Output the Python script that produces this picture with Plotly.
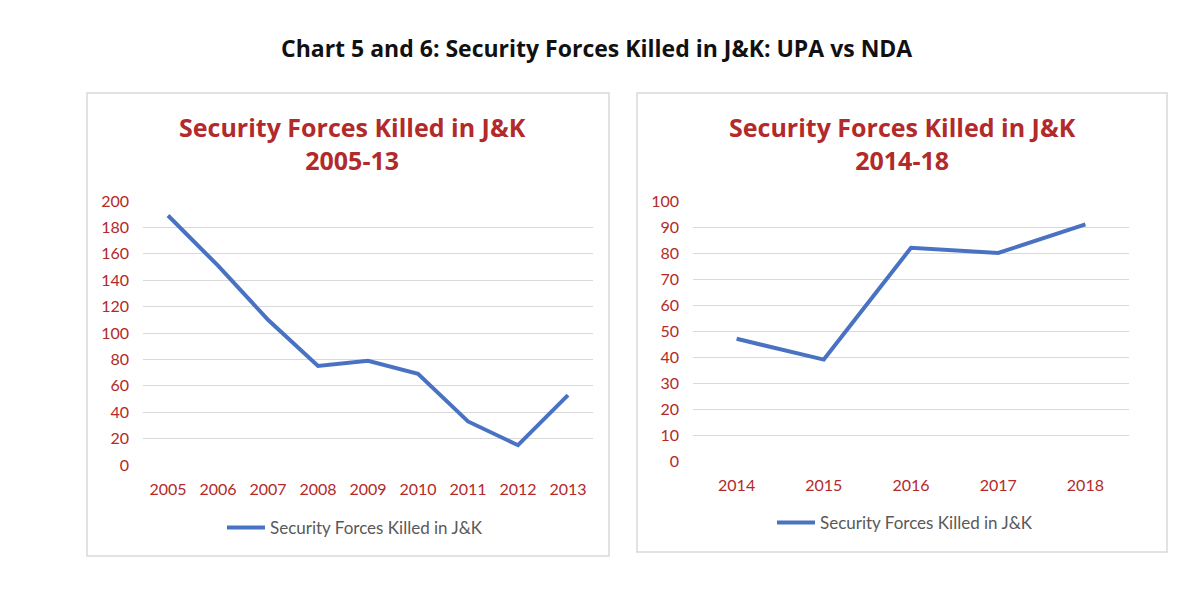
import plotly.graph_objects as go

W, H = 1200, 593
OX, OY = 8, 8  # page body margin offset

years_upa = ["2005", "2006", "2007", "2008", "2009", "2010", "2011", "2012", "2013"]
killed_upa = [189, 151, 110, 75, 79, 69, 33, 15, 53]

years_nda = ["2014", "2015", "2016", "2017", "2018"]
killed_nda = [47, 39, 82, 80, 91]

series_name = "Security Forces Killed in J&K"
main_title = "Chart 5 and 6: Security Forces Killed in J&K: UPA vs NDA"
left_title = "Security Forces Killed in J&K<br>2005-13"
right_title = "Security Forces Killed in J&K<br>2014-18"

RED = "#B22A2A"
BLUE = "#4A72C2"
GRID = "#D9D9D9"
FONT = "Lato"
TFONT = "Open Sans"

def px(x):
    return (x - OX) / W

def py(y):
    return 1 - (y - OY) / H

fig = go.Figure()
fig.add_trace(go.Scatter(x=years_upa, y=killed_upa, mode="lines", name=series_name, showlegend=True,
                         line=dict(color=BLUE, width=4), xaxis="x", yaxis="y", legend="legend"))
fig.add_trace(go.Scatter(x=years_nda, y=killed_nda, mode="lines", name=series_name, showlegend=True,
                         line=dict(color=BLUE, width=4), xaxis="x2", yaxis="y2", legend="legend2"))

axis_common = dict(showline=False, zeroline=False, gridcolor=GRID, gridwidth=1, automargin=False,
                   tickfont=dict(family=FONT, size=16, color=RED), fixedrange=True)

def title_ann(text, x, y, size, color, family):
    return dict(text="<b>" + text + "</b>", x=px(x), y=py(y), xref="paper", yref="paper",
                xanchor="center", yanchor="middle", showarrow=False,
                font=dict(family=family, size=size, color=color))

fig.update_layout(
    width=W, height=H, autosize=False, showlegend=True,
    margin=dict(l=0, r=0, t=0, b=0, pad=0),
    paper_bgcolor="white", plot_bgcolor="white",
    font=dict(family=FONT),
    xaxis=dict(domain=[px(143), px(593)], anchor="y", type="category", range=[-0.5, 8.5],
               showgrid=False, ticklabelstandoff=13, **axis_common),
    yaxis=dict(domain=[py(465), py(201)], anchor="x", range=[0, 200], dtick=20,
               ticklabelstandoff=13, **axis_common),
    xaxis2=dict(domain=[px(693), px(1129)], anchor="y2", type="category", range=[-0.5, 4.5],
                showgrid=False, ticklabelstandoff=13, **axis_common),
    yaxis2=dict(domain=[py(461), py(201)], anchor="x2", range=[0, 100], dtick=10,
                ticklabelstandoff=13, **axis_common),
    legend=dict(x=px(222), y=py(528), xanchor="left", yanchor="middle", xref="paper", yref="paper",
                itemwidth=38,
                font=dict(family=FONT, size=17, color="#595959"), bgcolor="rgba(0,0,0,0)"),
    legend2=dict(x=px(772), y=py(523), xanchor="left", yanchor="middle", xref="paper", yref="paper",
                 itemwidth=38,
                 font=dict(family=FONT, size=17, color="#595959"), bgcolor="rgba(0,0,0,0)"),
    shapes=[
        dict(type="rect", xref="paper", yref="paper", x0=px(87), x1=px(609), y0=py(556), y1=py(93),
             line=dict(color=GRID, width=1.5), layer="below"),
        dict(type="rect", xref="paper", yref="paper", x0=px(637), x1=px(1167), y0=py(552), y1=py(93),
             line=dict(color=GRID, width=1.5), layer="below"),
    ],
    annotations=[
        title_ann(main_title, 596, 48, 23, "#111111", TFONT),
        title_ann(left_title, 352, 143, 25, RED, TFONT),
        title_ann(right_title, 902, 143, 25, RED, TFONT),
    ],
)

fig.write_html("out.html")
